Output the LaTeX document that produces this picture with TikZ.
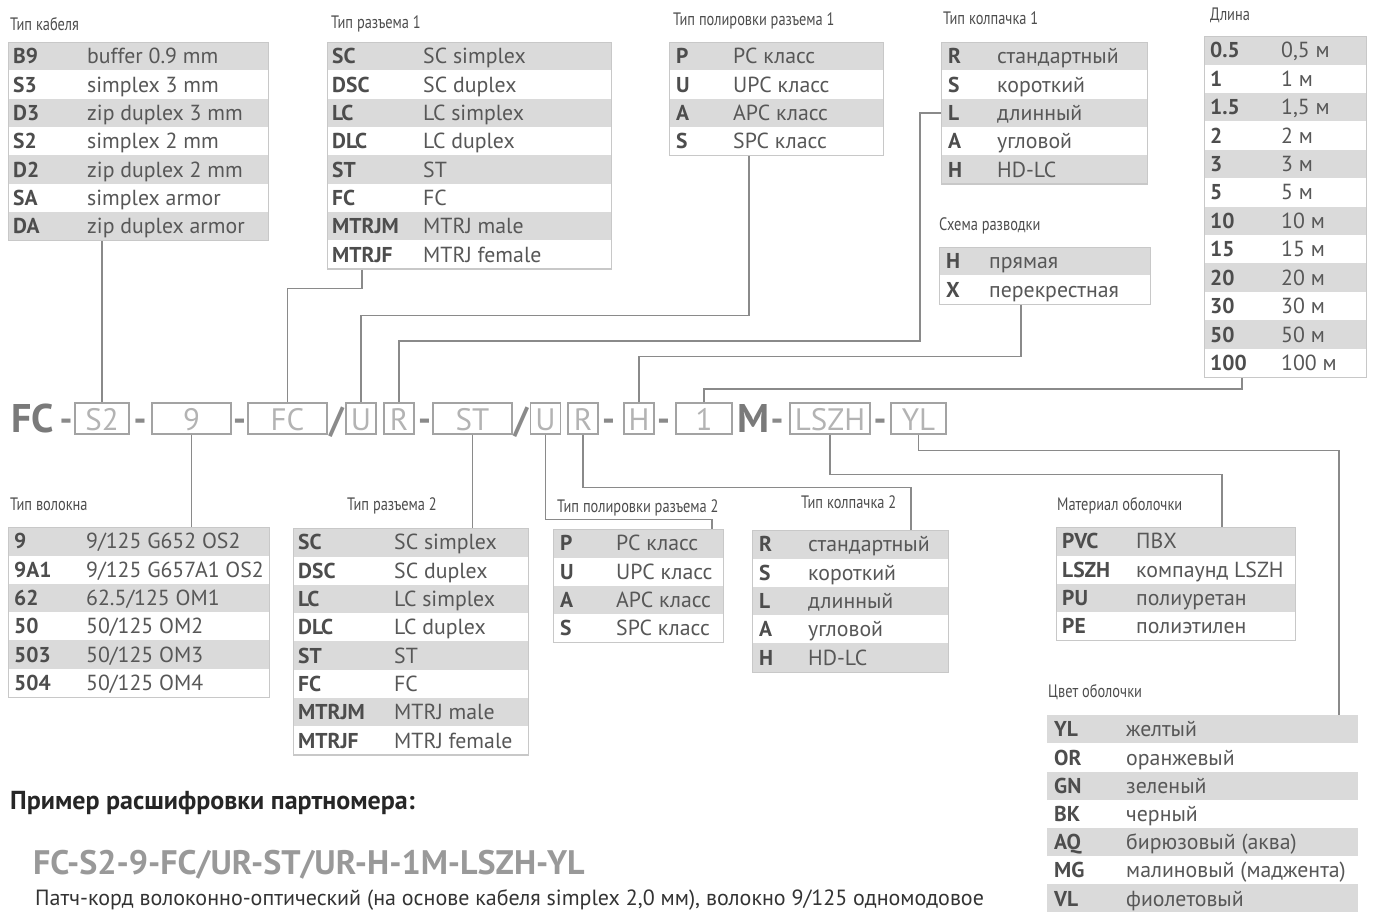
\documentclass[tikz,border=0pt]{standalone}
\usepackage{fontspec}
\setmainfont{PT Sans}
\newfontfamily\condfont[FakeStretch=0.8]{PT Sans}
\usetikzlibrary{positioning,calc}

\definecolor{rowgray}{HTML}{DADADA}
\definecolor{framegray}{HTML}{C8C8C8}
\definecolor{codegray}{HTML}{4D4D4D}
\definecolor{descgray}{HTML}{575757}
\definecolor{linkgray}{HTML}{8A8A8A}
\definecolor{boxgray}{HTML}{A3A3A3}
\definecolor{boxtext}{HTML}{B3B3B3}
\definecolor{biggray}{HTML}{7A7A7A}

\begin{document}
\begin{tikzpicture}[x=1pt, y=-1pt,
  row/.style={anchor=north west, inner sep=0, minimum height=28.3pt},
  code/.style={anchor=base west, inner sep=0, yshift=-7.6pt, font=\fontsize{21.5}{21.5}\selectfont\bfseries, text=codegray},
  desc/.style={anchor=base west, inner sep=0, yshift=-7.6pt, font=\fontsize{21.8}{21.8}\selectfont, text=descgray},
  frame/.style={draw=framegray, line width=1.2pt, anchor=north west, inner sep=0},
  ttl/.style={anchor=base west, inner sep=0, font=\condfont\fontsize{18}{18}\selectfont, text=codegray},
  part/.style={draw=boxgray, line width=1.2pt, inner sep=0, minimum height=31pt, text height=23pt, text depth=0pt, font=\fontsize{31}{31}\selectfont, text=boxtext},
  sep/.style={anchor=base, inner sep=0, font=\fontsize{36}{36}\selectfont\bfseries, text=linkgray},
  big/.style={anchor=base, inner sep=0, font=\fontsize{40}{40}\selectfont\bfseries, text=biggray},
  link/.style={draw=linkgray, line width=1.3pt}
]
\useasboundingbox (0,0) rectangle (1374,912);

% code line
\node[big] (fc) at (32.5,432) {FC};
\node[sep] (d1) at (66,431) {-};
\node[part, minimum width=54pt] (s2) at (102,418.5) {S2};
\node[sep] (d2) at (140,431) {-};
\node[part, minimum width=79pt] (nine) at (191.5,418.5) {9};
\node[sep] (d3) at (239.5,431) {-};
\node[part, minimum width=79pt] (fcb) at (287.5,418.5) {FC};
\node[sep] (sl1) at (336.5,432) {/};
\node[part, minimum width=30pt] (u1) at (361,418.5) {U};
\node[part, minimum width=30pt] (r1) at (399,418.5) {R};
\node[sep] (d4) at (424.5,431) {-};
\node[part, minimum width=79pt] (st) at (472.5,418.5) {ST};
\node[sep] (sl2) at (521,432) {/};
\node[part, minimum width=30pt] (u2) at (545.5,418.5) {U};
\node[part, minimum width=30pt] (r2) at (583,418.5) {R};
\node[sep] (d5) at (608.5,431) {-};
\node[part, minimum width=30pt] (h) at (639,418.5) {H};
\node[sep] (d6) at (663.5,431) {-};
\node[part, minimum width=56pt] (one) at (704,418.5) {1};
\node[big] (m) at (753.5,432) {M};
\node[sep] (d7) at (777,431) {-};
\node[part, minimum width=80pt] (lszh) at (830,418.5) {LSZH};
\node[sep] (d8) at (880,431) {-};
\node[part, minimum width=55pt] (yl) at (918.5,418.5) {YL};

% cable type
\node[ttl] (cable-t) at (10,31) {Тип кабеля};
\foreach \cod/\dsc [count=\i from 0] in {B9/buffer 0.9 mm, S3/simplex 3 mm, D3/zip duplex 3 mm, S2/simplex 2 mm, D2/zip duplex 2 mm, SA/simplex armor, DA/zip duplex armor}{
  \ifodd\i \def\rf{white}\else\def\rf{rowgray}\fi
  \node[row, fill=\rf, minimum width=260pt] (cable-\i) at (8,{42+\i*28.3}) {};
  \node[code] (cable-\i-c) at ([xshift=5pt]cable-\i.west) {\cod};
  \node[desc] (cable-\i-d) at ([xshift=79pt]cable-\i.west) {\dsc};
}
\node[frame, minimum width=260pt, minimum height=198.1pt] (cable) at (8,42) {};

% connector 1
\node[ttl] (conn1-t) at (331,29) {Тип разъема 1};
\foreach \cod/\dsc [count=\i from 0] in {SC/SC simplex, DSC/SC duplex, LC/LC simplex, DLC/LC duplex, ST/ST, FC/FC, MTRJM/MTRJ male, MTRJF/MTRJ female}{
  \ifodd\i \def\rf{white}\else\def\rf{rowgray}\fi
  \node[row, fill=\rf, minimum width=284pt] (conn1-\i) at (327,{42+\i*28.3}) {};
  \node[code] (conn1-\i-c) at ([xshift=5pt]conn1-\i.west) {\cod};
  \node[desc] (conn1-\i-d) at ([xshift=96pt]conn1-\i.west) {\dsc};
}
\node[frame, minimum width=284pt, minimum height=226.4pt] (conn1) at (327,42) {};

% polish 1
\node[ttl] (pol1-t) at (673,26) {Тип полировки разъема 1};
\foreach \cod/\dsc [count=\i from 0] in {P/PC класс, U/UPC класс, A/APC класс, S/SPC класс}{
  \ifodd\i \def\rf{white}\else\def\rf{rowgray}\fi
  \node[row, fill=\rf, minimum width=214pt] (pol1-\i) at (669,{42+\i*28.3}) {};
  \node[code] (pol1-\i-c) at ([xshift=7pt]pol1-\i.west) {\cod};
  \node[desc] (pol1-\i-d) at ([xshift=64pt]pol1-\i.west) {\dsc};
}
\node[frame, minimum width=214pt, minimum height=113.2pt] (pol1) at (669,42) {};

% cap 1
\node[ttl] (cap1-t) at (943,25) {Тип колпачка 1};
\foreach \cod/\dsc [count=\i from 0] in {R/стандартный, S/короткий, L/длинный, A/угловой, H/HD-LC}{
  \ifodd\i \def\rf{white}\else\def\rf{rowgray}\fi
  \node[row, fill=\rf, minimum width=206pt] (cap1-\i) at (941,{42+\i*28.3}) {};
  \node[code] (cap1-\i-c) at ([xshift=7pt]cap1-\i.west) {\cod};
  \node[desc] (cap1-\i-d) at ([xshift=56pt]cap1-\i.west) {\dsc};
}
\node[frame, minimum width=206pt, minimum height=141.5pt] (cap1) at (941,42) {};

% wiring
\node[ttl] (wire-t) at (939,231) {Схема разводки};
\foreach \cod/\dsc [count=\i from 0] in {H/прямая, X/перекрестная}{
  \ifodd\i \def\rf{white}\else\def\rf{rowgray}\fi
  \node[row, fill=\rf, minimum width=211pt] (wire-\i) at (939,{247+\i*28.3}) {};
  \node[code] (wire-\i-c) at ([xshift=7pt]wire-\i.west) {\cod};
  \node[desc] (wire-\i-d) at ([xshift=50pt]wire-\i.west) {\dsc};
}
\node[frame, minimum width=211pt, minimum height=56.6pt] (wire) at (939,247) {};

% length
\node[ttl] (len-t) at (1210,21) {Длина};
\foreach \cod/\dsc [count=\i from 0] in {0.5/{0,5 м}, 1/1 м, 1.5/{1,5 м}, 2/2 м, 3/3 м, 5/5 м, 10/10 м, 15/15 м, 20/20 м, 30/30 м, 50/50 м, 100/100 м}{
  \ifodd\i \def\rf{white}\else\def\rf{rowgray}\fi
  \node[row, fill=\rf, minimum width=162pt, minimum height=28.4pt] (len-\i) at (1204,{36+\i*28.4}) {};
  \node[code] (len-\i-c) at ([xshift=6pt]len-\i.west) {\cod};
  \node[desc] (len-\i-d) at ([xshift=77pt]len-\i.west) {\dsc};
}
\node[frame, minimum width=162pt, minimum height=340.8pt] (len) at (1204,36) {};

% fiber
\node[ttl] (fib-t) at (10,510) {Тип волокна};
\foreach \cod/\dsc [count=\i from 0] in {9/{9/125 G652 OS2}, 9A1/{9/125 G657A1 OS2}, 62/{62.5/125 OM1}, 50/{50/125 OM2}, 503/{50/125 OM3}, 504/{50/125 OM4}}{
  \ifodd\i \def\rf{white}\else\def\rf{rowgray}\fi
  \node[row, fill=\rf, minimum width=261pt] (fib-\i) at (8,{527+\i*28.3}) {};
  \node[code] (fib-\i-c) at ([xshift=6pt]fib-\i.west) {\cod};
  \node[desc] (fib-\i-d) at ([xshift=78pt]fib-\i.west) {\dsc};
}
\node[frame, minimum width=261pt, minimum height=169.8pt] (fib) at (8,527) {};

% connector 2
\node[ttl] (conn2-t) at (347,510) {Тип разъема 2};
\foreach \cod/\dsc [count=\i from 0] in {SC/SC simplex, DSC/SC duplex, LC/LC simplex, DLC/LC duplex, ST/ST, FC/FC, MTRJM/MTRJ male, MTRJF/MTRJ female}{
  \ifodd\i \def\rf{white}\else\def\rf{rowgray}\fi
  \node[row, fill=\rf, minimum width=235pt] (conn2-\i) at (293,{528+\i*28.3}) {};
  \node[code] (conn2-\i-c) at ([xshift=5pt]conn2-\i.west) {\cod};
  \node[desc] (conn2-\i-d) at ([xshift=101pt]conn2-\i.west) {\dsc};
}
\node[frame, minimum width=235pt, minimum height=226.4pt] (conn2) at (293,528) {};

% polish 2
\node[ttl] (pol2-t) at (557,512) {Тип полировки разъема 2};
\foreach \cod/\dsc [count=\i from 0] in {P/PC класс, U/UPC класс, A/APC класс, S/SPC класс}{
  \ifodd\i \def\rf{white}\else\def\rf{rowgray}\fi
  \node[row, fill=\rf, minimum width=170pt] (pol2-\i) at (553,{529+\i*28.3}) {};
  \node[code] (pol2-\i-c) at ([xshift=7pt]pol2-\i.west) {\cod};
  \node[desc] (pol2-\i-d) at ([xshift=63pt]pol2-\i.west) {\dsc};
}
\node[frame, minimum width=170pt, minimum height=113.2pt] (pol2) at (553,529) {};

% cap 2
\node[ttl] (cap2-t) at (801,508) {Тип колпачка 2};
\foreach \cod/\dsc [count=\i from 0] in {R/стандартный, S/короткий, L/длинный, A/угловой, H/HD-LC}{
  \ifodd\i \def\rf{white}\else\def\rf{rowgray}\fi
  \node[row, fill=\rf, minimum width=196pt] (cap2-\i) at (752,{530+\i*28.3}) {};
  \node[code] (cap2-\i-c) at ([xshift=7pt]cap2-\i.west) {\cod};
  \node[desc] (cap2-\i-d) at ([xshift=56pt]cap2-\i.west) {\dsc};
}
\node[frame, minimum width=196pt, minimum height=141.5pt] (cap2) at (752,530) {};

% jacket material
\node[ttl] (mat-t) at (1057,510) {Материал оболочки};
\foreach \cod/\dsc [count=\i from 0] in {PVC/ПВХ, LSZH/компаунд LSZH, PU/полиуретан, PE/полиэтилен}{
  \ifodd\i \def\rf{white}\else\def\rf{rowgray}\fi
  \node[row, fill=\rf, minimum width=239pt] (mat-\i) at (1056,{527+\i*28.3}) {};
  \node[code] (mat-\i-c) at ([xshift=6pt]mat-\i.west) {\cod};
  \node[desc] (mat-\i-d) at ([xshift=80pt]mat-\i.west) {\dsc};
}
\node[frame, minimum width=239pt, minimum height=113.2pt] (mat) at (1056,527) {};

% jacket colour
\node[ttl] (col-t) at (1048,697) {Цвет оболочки};
\foreach \cod/\dsc [count=\i from 0] in {YL/желтый, OR/оранжевый, GN/зеленый, BK/черный, AQ/бирюзовый (аква), MG/малиновый (маджента), VL/фиолетовый}{
  \ifodd\i \def\rf{white}\else\def\rf{rowgray}\fi
  \node[row, fill=\rf, minimum width=311pt] (col-\i) at (1047,{715+\i*28.2}) {};
  \node[code] (col-\i-c) at ([xshift=7pt]col-\i.west) {\cod};
  \node[desc] (col-\i-d) at ([xshift=79pt]col-\i.west) {\dsc};
}

% links, top
\draw[link] (cable.south -| s2.north) -- (s2.north);
\draw[link] ([xshift=35pt]conn1.south west) -- ++(0,19) -| (fcb.north);
\draw[link] ([xshift=80pt]pol1.south west) -- ++(0,159) -| (u1.north);
\draw[link] (cap1-2.west) -- ++(-21,0) -- ++(0,228) -| (r1.north);
\draw[link] ([xshift=82pt]wire.south west) -- ++(0,52) -| (h.north);
\draw[link] ([xshift=38pt]len.south west) -- ++(0,11) -| (one.north);

% links, bottom
\draw[link] (nine.south) -- (nine.south |- fib.north);
\draw[link] (st.south) -- (st.south |- conn2.north);
\draw[link] (u2.south) -- ++(0,85) -| ([xshift=159pt]pol2.north west);
\draw[link] (r2.south) -- ++(0,53) -| ([xshift=159pt]cap2.north west);
\draw[link] (lszh.south) -- ++(0,40) -| ([xshift=166pt]mat.north west);
\draw[link] (yl.south) -- ++(0,16) -| ([xshift=292pt]col-0.north west);

% example
\node[anchor=base west, inner sep=0, font=\fontsize{26}{26}\selectfont\bfseries, text=black!85] (ex-t) at (10,809) {Пример расшифровки партномера:};
\node[anchor=base west, inner sep=0, font=\fontsize{34}{34}\selectfont\bfseries, text=black!40] (ex-code) at (33,874) {FC-S2-9-FC/UR-ST/UR-H-1M-LSZH-YL};
\node[anchor=base west, inner sep=0, font=\fontsize{22}{22}\selectfont, text=black!80] (ex-desc) at (35,905) {Патч-корд волоконно-оптический (на основе кабеля simplex 2,0 мм), волокно 9/125 одномодовое};
\end{tikzpicture}
\end{document}
